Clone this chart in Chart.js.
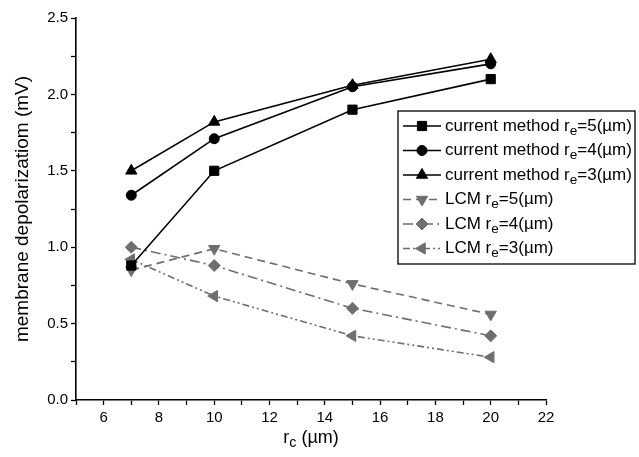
<!DOCTYPE html>
<html>
<head>
<meta charset="utf-8">
<script src="https://cdn.jsdelivr.net/npm/chart.js@4/dist/chart.umd.min.js"></script>
<style>
  body { margin: 0; background: #fff; }
  #wrap { width: 639px; height: 457px; }
</style>
</head>
<body>
<div id="wrap"><canvas id="chart"></canvas></div>
<script>
// r_c values (µm) and depolarization (mV)
const rc = [7, 10, 15, 20];
const cur5 = [0.88, 1.50, 1.90, 2.10];
const cur4 = [1.34, 1.71, 2.05, 2.20];
const cur3 = [1.50, 1.82, 2.06, 2.23];
const lcm5 = [0.85, 0.99, 0.76, 0.56];
const lcm4 = [1.00, 0.88, 0.60, 0.42];
const lcm3 = [0.92, 0.68, 0.42, 0.28];
const reValues = [5, 4, 3, 5, 4, 3];
const methodNames = ["current method", "current method", "current method", "LCM", "LCM", "LCM"];

const FONT = "'Liberation Sans', Arial, sans-serif";
const GRAY = "#6e6e6e";

function pts(values) {
  return rc.map((x, i) => ({ x, y: values[i] }));
}

function series(idx, values, color, pointStyle, radius, rotation, dash) {
  return {
    label: methodNames[idx] + " re=" + reValues[idx],
    data: pts(values),
    borderColor: color,
    backgroundColor: color,
    pointBackgroundColor: color,
    pointBorderColor: color,
    borderWidth: 1.6,
    borderDash: dash,
    pointStyle,
    pointRadius: radius,
    pointRotation: rotation,
    pointBorderWidth: 1,
    tension: 0
  };
}

const datasets = [
  series(0, cur5, "#000", "rect", 6.5, 0, []),
  series(1, cur4, "#000", "circle", 5, 0, []),
  series(2, cur3, "#000", "triangle", 6.5, 0, []),
  series(3, lcm5, GRAY, "triangle", 6.5, 180, [8, 5]),
  series(4, lcm4, GRAY, "rectRot", 6, 0, [10, 4, 2, 4]),
  series(5, lcm3, GRAY, "triangle", 6.5, -90, [7, 3, 2, 3, 2, 3])
];

// draws text where parts marked sub are lowered and smaller
function drawRich(ctx, parts, x, y, size) {
  let cx = x;
  parts.forEach(([text, sub]) => {
    ctx.font = (sub ? size * 0.8 : size) + "px " + FONT;
    ctx.fillText(text, cx, sub ? y + size * 0.3 : y);
    cx += ctx.measureText(text).width;
  });
  return cx;
}

function richWidth(ctx, parts, size) {
  let w = 0;
  parts.forEach(([text, sub]) => {
    ctx.font = (sub ? size * 0.8 : size) + "px " + FONT;
    w += ctx.measureText(text).width;
  });
  return w;
}

const overlay = {
  id: "overlay",
  afterDraw(chart) {
    const ctx = chart.ctx;
    const area = chart.chartArea;
    ctx.save();
    ctx.fillStyle = "#000";
    ctx.textBaseline = "middle";

    // x axis title
    const xt = [["r", false], ["c", true], [" (\u00b5m)", false]];
    const xw = richWidth(ctx, xt, 18);
    drawRich(ctx, xt, (area.left + area.right) / 2 - xw / 2, 438, 18);

    // y axis title
    ctx.save();
    ctx.translate(23, (area.top + area.bottom) / 2);
    ctx.rotate(-Math.PI / 2);
    ctx.textAlign = "center";
    ctx.font = "19px " + FONT;
    ctx.fillText("membrane depolarizatiom (mV)", 0, 0);
    ctx.restore();

    // legend box
    const lx = 398, ly = 111, lw = 237, lh = 153;
    ctx.fillStyle = "#fff";
    ctx.fillRect(lx, ly, lw, lh);
    ctx.strokeStyle = "#000";
    ctx.lineWidth = 1.3;
    ctx.strokeRect(lx, ly, lw, lh);

    chart.data.datasets.forEach((ds, i) => {
      const y = ly + 15 + i * 24.5;
      ctx.strokeStyle = ds.borderColor;
      ctx.lineWidth = 1.6;
      ctx.setLineDash(ds.borderDash);
      ctx.beginPath();
      ctx.moveTo(lx + 5, y);
      ctx.lineTo(lx + 43, y);
      ctx.stroke();
      ctx.setLineDash([]);
      ctx.fillStyle = ds.pointBackgroundColor;
      ctx.strokeStyle = ds.pointBorderColor;
      ctx.lineWidth = 1;
      Chart.helpers.drawPoint(ctx, {
        pointStyle: ds.pointStyle,
        rotation: ds.pointRotation,
        radius: ds.pointRadius,
        borderWidth: 1
      }, lx + 24, y);
      ctx.fillStyle = "#000";
      drawRich(ctx, [
        [methodNames[i] + " r", false],
        ["e", true],
        ["=" + reValues[i] + "(\u00b5m)", false]
      ], lx + 47, y, 17);
    });
    ctx.restore();
  }
};

new Chart(document.getElementById("chart"), {
  type: "line",
  data: { datasets },
  plugins: [overlay],
  options: {
    responsive: true,
    maintainAspectRatio: false,
    animation: false,
    layout: { padding: { left: 0, top: 18, right: 93, bottom: 0 } },
    plugins: { legend: { display: false }, tooltip: { enabled: false } },
    scales: {
      x: {
        type: "linear",
        min: 5,
        max: 22,
        afterFit: (scale) => { scale.height = 57; },
        grid: {
          drawOnChartArea: false,
          tickLength: 5,
          tickColor: "#000",
          tickWidth: 1.3
        },
        border: { color: "#000", width: 1.6 },
        ticks: {
          stepSize: 1,
          autoSkip: false,
          maxRotation: 0,
          padding: 4,
          color: "#000",
          font: { size: 15, family: FONT },
          callback: (v) => (v % 2 === 0 ? String(v) : "")
        }
      },
      y: {
        min: 0,
        max: 2.5,
        afterFit: (scale) => { scale.width = 76; },
        grid: {
          drawOnChartArea: false,
          tickLength: 5,
          tickColor: "#000",
          tickWidth: 1.3
        },
        border: { color: "#000", width: 1.6 },
        ticks: {
          stepSize: 0.25,
          autoSkip: false,
          padding: 3,
          color: "#000",
          font: { size: 15, family: FONT },
          callback: (v) => (Math.abs(v * 2 - Math.round(v * 2)) < 1e-6 ? v.toFixed(1) : "")
        }
      }
    }
  }
});
</script>
</body>
</html>
